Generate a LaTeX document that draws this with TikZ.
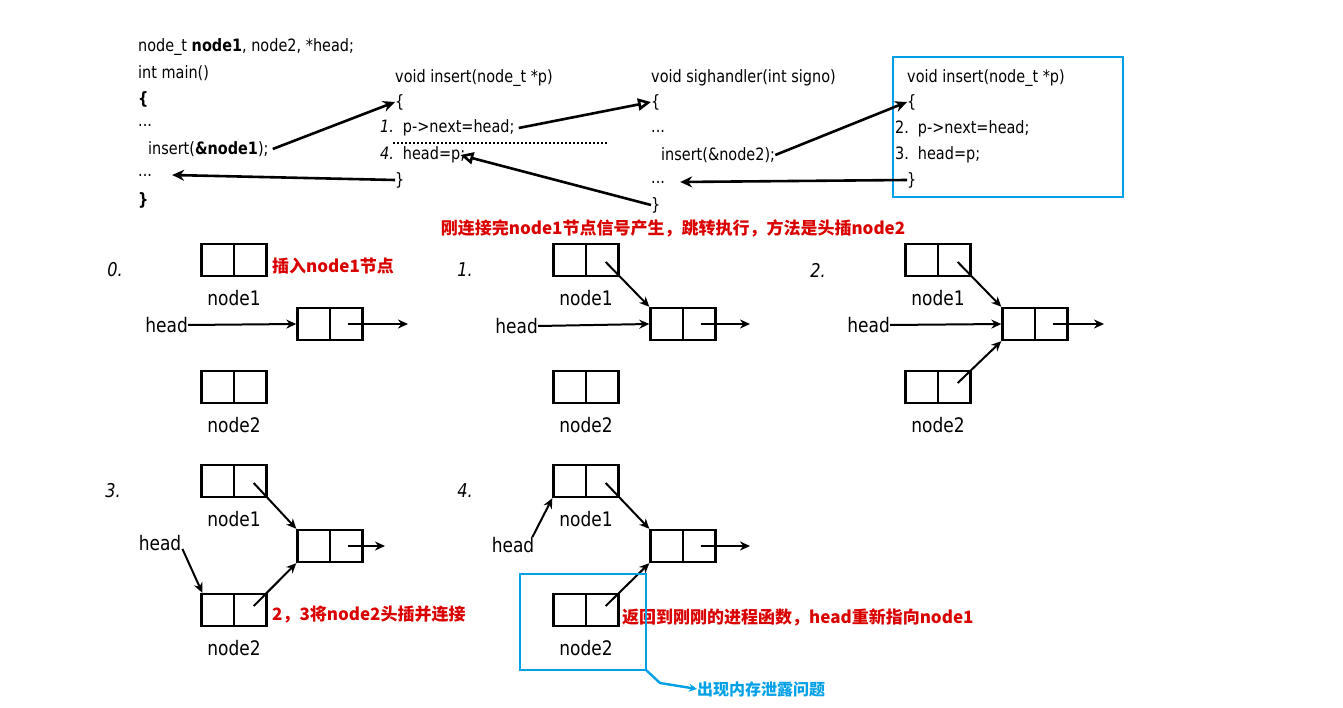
\documentclass[tikz,border=0pt]{standalone}
\usepackage{fontspec}
\setmainfont[FakeStretch=0.85]{DejaVu Sans}
\newfontfamily\cjk{Noto Sans CJK SC}
\usetikzlibrary{arrows.meta,positioning}

\begin{document}
\begin{tikzpicture}[x=1pt,y=-1pt]
	\tikzstyle{Code} 	= [anchor=west, inner sep=0pt, font=\fontsize{17}{20}\selectfont]
	\tikzstyle{Box}		= [draw, line width=2.4pt, minimum width=65pt, minimum height=32pt, inner sep=0pt,
							path picture={\draw[line width=2.4pt] (path picture bounding box.north) -- (path picture bounding box.south);}]
	\tikzstyle{Lbl}		= [font=\fontsize{20}{22}\selectfont, inner sep=0pt]
	\tikzstyle{Note}	= [anchor=west, inner sep=0pt, red!85!black, font=\cjk\bfseries\fontsize{17}{19}\selectfont]
	\tikzstyle{Step}	= [inner sep=0pt, font=\itshape\fontsize{19}{21}\selectfont]
	\tikzstyle{Ptr}		= [line width=2pt, -{Stealth[length=10pt,width=9pt]}]
	\tikzstyle{Jump}	= [line width=2.6pt, -{Stealth[length=12pt,width=11pt]}]
	\tikzstyle{Back}	= [line width=2.6pt, -{Triangle[open,length=13pt,width=12pt]}]
	\tikzstyle{Frame}	= [draw={rgb,255:red,0;green,160;blue,230}, line width=2.4pt]

	\useasboundingbox (0,0) rectangle (1343,708);

	% code columns
	\node (m1) at (138,47) [Code] {node\_t \textbf{node1}, node2, *head;};
	\node (m2) at (138,73) [Code] {int main()};
	\node (m3) at (138,99) [Code] {\textbf{\{}};
	\node (m4) at (138,125) [Code] {...};
	\node (m5) at (148,149) [Code] {insert(\textbf{\&node1});};
	\node (m6) at (138,175) [Code] {...};
	\node (m7) at (138,200) [Code] {\textbf{\}}};

	\node (a1) at (395,78) [Code] {void insert(node\_t *p)};
	\node (a2) at (395,102) [Code] {\{};
	\node (a3) at (380,128) [Code] {\textit{1.}\, p->next=head;};
	\node (a4) at (380,155) [Code] {\textit{4.}\, head=p;};
	\node (a5) at (395,180) [Code] {\}};

	\node (b1) at (651,78) [Code] {void sighandler(int signo)};
	\node (b2) at (651,102) [Code] {\{};
	\node (b3) at (651,131) [Code] {...};
	\node (b4) at (661,155) [Code] {insert(\&node2);};
	\node (b5) at (651,182) [Code] {...};
	\node (b6) at (651,205) [Code] {\}};

	\node (c1) at (907,78) [Code] {void insert(node\_t *p)};
	\node (c2) at (907,102) [Code] {\{};
	\node (c3) at (895,129) [Code] {2.\, p->next=head;};
	\node (c4) at (895,155) [Code] {3.\, head=p;};
	\node (c5) at (907,180) [Code] {\}};

	\draw [line width=2pt, dotted] (393,143) -- (607,143);
	\draw [Frame] (893,57) rectangle (1123,197);

	\draw [Jump] ([xshift=4pt]m5.east) -- (a2.west);
	\draw [Jump] (a5.west) -- ([xshift=20pt]m6.east);
	\draw [Back] ([xshift=4pt]a3.east) -- (b2.west);
	\draw [Back] (b6.west) -- ([xshift=-5pt]a4.east);
	\draw [Jump] (b4.east) -- (c2.west);
	\draw [Jump] (c5.west) -- ([xshift=15pt]b5.east);

	\node (cap) at (673,228) [Note, anchor=center] {刚连接完node1节点信号产生，跳转执行，方法是头插node2};

	% step 0
	\node (s0) at (115,270) [Step] {0.};
	\node (p0a) at (234,260) [Box] {};
	\node (p0l) at (330,324) [Box] {};
	\node (p0b) at (234,387) [Box] {};
	\node (p0an) [Lbl, below=13pt of p0a] {node1};
	\node (p0bn) [Lbl, below=13pt of p0b] {node2};
	\node (p0h) at (188,325) [Lbl, anchor=east] {head};
	\node (p0t) at (272,266) [Note] {插入node1节点};
	\coordinate (p0e) at (408,324);
	\draw [Ptr] (p0h.east) -- (p0l.west);
	\draw [Ptr] ([xshift=-16pt]p0l.east) -- (p0e);

	% step 1
	\node (s1) at (465,270) [Step] {1.};
	\node (p1a) at (586,260) [Box] {};
	\node (p1l) at (683,324) [Box] {};
	\node (p1b) at (586,387) [Box] {};
	\node (p1an) [Lbl, below=13pt of p1a] {node1};
	\node (p1bn) [Lbl, below=13pt of p1b] {node2};
	\node (p1h) at (538,326) [Lbl, anchor=east] {head};
	\coordinate (p1e) at (750,324);
	\draw [Ptr] (p1h.east) -- (p1l.west);
	\draw [Ptr] ([xshift=-14pt,yshift=-2pt]p1a.east) -- (p1l.north west);
	\draw [Ptr] ([xshift=-16pt]p1l.east) -- (p1e);

	% step 2
	\node (s2) at (818,270) [Step] {2.};
	\node (p2a) at (938,260) [Box] {};
	\node (p2l) at (1035,324) [Box] {};
	\node (p2b) at (938,387) [Box] {};
	\node (p2an) [Lbl, below=13pt of p2a] {node1};
	\node (p2bn) [Lbl, below=13pt of p2b] {node2};
	\node (p2h) at (890,325) [Lbl, anchor=east] {head};
	\coordinate (p2e) at (1104,324);
	\draw [Ptr] (p2h.east) -- (p2l.west);
	\draw [Ptr] ([xshift=-14pt,yshift=-2pt]p2a.east) -- (p2l.north west);
	\draw [Ptr] ([xshift=-14pt,yshift=4pt]p2b.east) -- (p2l.south west);
	\draw [Ptr] ([xshift=-16pt]p2l.east) -- (p2e);

	% step 3
	\node (s3) at (113,491) [Step] {3.};
	\node (p3a) at (234,481) [Box] {};
	\node (p3l) at (330,546) [Box] {};
	\node (p3b) at (234,610) [Box] {};
	\node (p3an) [Lbl, below=13pt of p3a] {node1};
	\node (p3bn) [Lbl, below=13pt of p3b] {node2};
	\node (p3h) at (160,543) [Lbl] {head};
	\node (p3t) at (272,614) [Note] {2，3将node2头插并连接};
	\coordinate (p3e) at (385,546);
	\draw [Ptr] ([xshift=1pt,yshift=2pt]p3h.south east) -- ([xshift=2pt]p3b.north west);
	\draw [Ptr] ([xshift=-14pt,yshift=-2pt]p3a.east) -- (p3l.north west);
	\draw [Ptr] ([xshift=-14pt,yshift=4pt]p3b.east) -- (p3l.south west);
	\draw [Ptr] ([xshift=-16pt]p3l.east) -- (p3e);

	% step 4
	\node (s4) at (465,491) [Step] {4.};
	\node (p4a) at (586,481) [Box] {};
	\node (p4l) at (683,546) [Box] {};
	\node (p4b) at (586,610) [Box] {};
	\node (p4an) [Lbl, below=13pt of p4a] {node1};
	\node (p4bn) [Lbl, below=13pt of p4b] {node2};
	\node (p4h) at (513,545) [Lbl] {head};
	\node (p4t) at (622,617) [Note] {返回到刚刚的进程函数，head重新指向node1};
	\coordinate (p4e) at (750,546);
	\draw [Ptr] ([xshift=-2pt]p4h.north east) -- (p4a.south west);
	\draw [Ptr] ([xshift=-14pt,yshift=-2pt]p4a.east) -- (p4l.north west);
	\draw [Ptr] ([xshift=-14pt,yshift=4pt]p4b.east) -- (p4l.south west);
	\draw [Ptr] ([xshift=-16pt]p4l.east) -- (p4e);

	\draw [Frame] (520,574) rectangle (646,670);
	\node (leak) at (697,689) [Note, text={rgb,255:red,0;green,160;blue,230}, font=\cjk\bfseries\fontsize{16}{18}\selectfont] {出现内存泄露问题};
	\draw [Frame, -{Stealth[length=8pt,width=8pt]}] (646,670) -- (660,683) -- (leak.west);
\end{tikzpicture}
\end{document}
